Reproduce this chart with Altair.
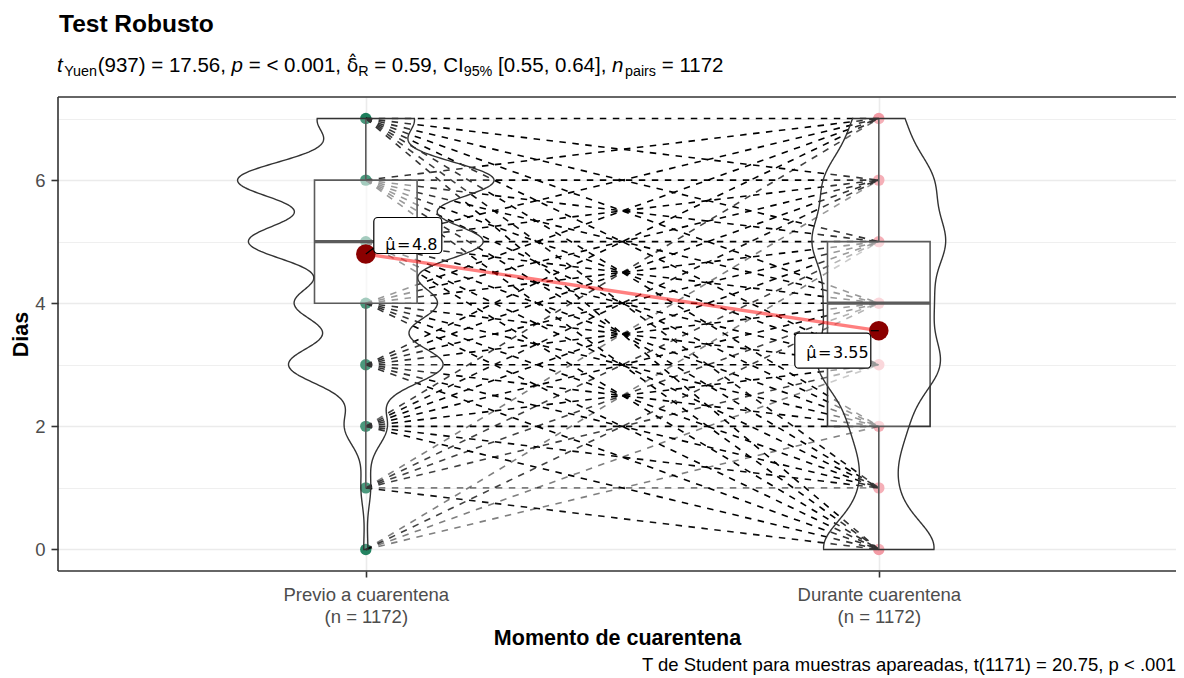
import altair as alt
import numpy as np
import pandas as pd

# ---------------- data ----------------
grupos = ["Previo a cuarentena", "Durante cuarentena"]
n_texto = "(n = 1172)"
valores = [0, 1, 2, 3, 4, 5, 6, 7]
# paired counts: row = value before quarantine, column = value during quarantine
conteos = [
    [0, 0, 1, 1, 2, 1, 0, 0],
    [4, 1, 0, 2, 2, 2, 1, 0],
    [10, 5, 8, 10, 7, 7, 4, 2],
    [37, 10, 18, 44, 28, 30, 18, 8],
    [30, 8, 15, 35, 33, 30, 18, 8],
    [46, 10, 20, 51, 45, 60, 42, 18],
    [57, 9, 18, 50, 38, 64, 62, 22],
    [19, 4, 6, 10, 8, 20, 32, 21],
]
colores = ["#1D7F5C", "#F39BA5"]

titulo = "Test Robusto"
titulo_x = "Momento de cuarentena"
titulo_y = "Dias"
pie = "T de Student para muestras apareadas, t(1171) = 20.75, p < .001"
subtitulo = [
    ("t", "it"), ("Yuen", "sub"), ("(937) = 17.56, ", "n"), ("p", "it"),
    (" = < 0.001, ", "n"), ("δ\u0302", "hat"), ("R", "sub"),
    (" = 0.59, ", "n"), ("CI", "n"), ("95%", "sub"), (" [0.55, 0.64], ", "n"),
    ("n", "it"), ("pairs", "sub"), (" = 1172", "n"),
]

# ---------------- layout ----------------
FONT = "Liberation Sans"
FONT_MATH = "DejaVu Sans"
LEFT, TOP, W, H = 58, 97, 1118, 474
PXU = 513.0
XDOM = [0.4, 0.4 + W / PXU]
YDOM = [-0.35, 7.35]
F_SUB, F_SUB2 = 20.5, 14.35
ANCHO = {' ': 278, '(': 333, ')': 333, '=': 584, '<': 584, ',': 278, '.': 278, '[': 278,
         ']': 278, '%': 889, 'C': 722, 'I': 278, 'R': 722, 'Y': 667, 'u': 556, 'e': 556,
         'n': 556, 'p': 556, 'a': 556, 'i': 222, 'r': 333, 's': 500, 't': 278, 'δ': 556,
         '\u0302': 0}


def ancho(t, size):
    return sum(ANCHO.get(c, 556) for c in t) * size / 1000.0


# ---------------- derived tables ----------------
mat = np.array(conteos)
marg = [mat.sum(axis=1), mat.sum(axis=0)]
posiciones = [1, 2]
vals_arr = np.array(valores, dtype=float)

puntos = pd.DataFrame([
    {"grupo": g, "pos": p, "valor": v, "n": int(m[i])}
    for g, p, m in zip(grupos, posiciones, marg)
    for i, v in enumerate(valores) if m[i] > 0
])

rows = []
pid = 0
for i, vi in enumerate(valores):
    for j, vj in enumerate(valores):
        c = int(mat[i, j])
        if c:
            rows.append({"pid": pid, "pos": 1, "valor": vi, "n": c})
            rows.append({"pid": pid, "pos": 2, "valor": vj, "n": c})
            pid += 1
pares = pd.DataFrame(rows)

viol_rows, caja_rows = [], []
for g, p, m in zip(grupos, posiciones, marg):
    v = np.repeat(vals_arr, m)
    nn = len(v)
    q1, med, q3 = np.percentile(v, [25, 50, 75])
    iqr = q3 - q1
    bw = 0.9 * min(v.std(ddof=1), iqr / 1.34) * nn ** -0.2
    grid = np.linspace(v.min(), v.max(), 400)
    dens = (m[None, :] * np.exp(-0.5 * ((grid[:, None] - vals_arr[None, :]) / bw) ** 2)).sum(1) / (nn * bw * np.sqrt(2 * np.pi))
    for yy, dd in zip(grid, dens):
        viol_rows.append({"grupo": g, "pos": p, "y": float(yy), "dens": float(dd)})
    lo = v[v >= q1 - 1.5 * iqr].min()
    hi = v[v <= q3 + 1.5 * iqr].max()
    caja_rows.append({"grupo": g, "pos": p, "q1": q1, "med": med, "q3": q3, "lo": lo, "hi": hi})
viol = pd.DataFrame(viol_rows)
caja = pd.DataFrame(caja_rows)

# ---------------- scales / axes ----------------
xs = alt.Scale(domain=XDOM, nice=False, zero=False)
ys = alt.Scale(domain=YDOM, nice=False, zero=False)
label_expr = (f"datum.value == 1 ? ['{grupos[0]}', '{n_texto}'] : "
              f"['{grupos[1]}', '{n_texto}']")
xaxis = alt.Axis(values=[1, 2], labelExpr=label_expr, labelFont=FONT, labelFontSize=18.5,
                 labelColor="#4D4D4D", labelLineHeight=22, labelPadding=8, tickSize=6,
                 tickColor="#333333", tickWidth=1.6, domain=False, grid=True,
                 gridColor="#EBEBEB", gridWidth=1.6, titleFont=FONT, titleFontSize=21.5,
                 titleFontWeight="bold", titleColor="black", titlePadding=2)
yaxis = alt.Axis(values=valores, labelExpr="datum.value % 2 == 0 ? datum.label : ''",
                 labelFont=FONT, labelFontSize=18.5, labelColor="#4D4D4D", labelPadding=6,
                 tickSize=7, tickColor="#333333", tickWidth=1.6,
                 tickOpacity={"condition": {"test": "datum.value % 2 == 1", "value": 0}, "value": 1},
                 domain=False, grid=True, gridColor="#EBEBEB",
                 gridWidth={"condition": {"test": "datum.value % 2 == 1", "value": 0.8}, "value": 1.6},
                 labelOverlap=False, titleFont=FONT, titleFontSize=21.5, titleFontWeight="bold",
                 titleColor="black", titlePadding=2)


def X(f):
    return alt.X(f, type="quantitative", scale=xs, axis=xaxis, title=titulo_x)


def Y(f):
    return alt.Y(f, type="quantitative", scale=ys, axis=yaxis, title=titulo_y)


op_expr = "1 - pow(0.5, datum.n)"

# ---------------- layers ----------------
pts = alt.Chart(puntos).transform_calculate(op=op_expr).mark_circle(size=130).encode(
    x=X("pos"), y=Y("valor"),
    color=alt.Color("grupo:N", scale=alt.Scale(domain=grupos, range=colores), legend=None),
    opacity=alt.Opacity("op:Q", scale=None),
)

lineas = alt.Chart(pares).transform_calculate(op=op_expr).mark_line(
    strokeDash=[6.5, 6.5], strokeWidth=1.6, color="black"
).encode(x=X("pos"), y=Y("valor"), detail="pid:N", opacity=alt.Opacity("op:Q", scale=None))

caja_base = alt.Chart(caja).transform_calculate(x1="datum.pos - 0.1", x2="datum.pos + 0.1")
bigote_sup = caja_base.mark_rule(color="#333333", strokeWidth=1.6).encode(
    x=X("pos"), y=Y("q3"), y2=alt.Y2("hi"))
bigote_inf = caja_base.mark_rule(color="#333333", strokeWidth=1.6).encode(
    x=X("pos"), y=Y("q1"), y2=alt.Y2("lo"))
cajas = caja_base.mark_rect(fill="white", fillOpacity=0.5, stroke="#333333", strokeWidth=1.6).encode(
    x=X("x1"), x2=alt.X2("x2"), y=Y("q3"), y2=alt.Y2("q1"))
mediana = caja_base.mark_rule(color="#333333", strokeWidth=3.2).encode(
    x=X("x1"), x2=alt.X2("x2"), y=Y("med"))

violines = alt.Chart(viol).transform_joinaggregate(maxd="max(dens)").transform_calculate(
    lo="datum.pos - datum.dens / datum.maxd * 0.25",
    hi="datum.pos + datum.dens / datum.maxd * 0.25",
).mark_area(orient="horizontal", fill="white", fillOpacity=0.2, stroke="#333333", strokeWidth=1.4).encode(
    y=Y("y"), x=X("lo"), x2=alt.X2("hi"), detail="grupo:N")

medias = alt.Chart(puntos).transform_calculate(w="datum.valor * datum.n").transform_aggregate(
    sw="sum(w)", sn="sum(n)", groupby=["grupo", "pos"]
).transform_calculate(media="datum.sw / datum.sn",
                      lab="'μ\u0302\u200a=\u200a' + format(datum.sw / datum.sn, '.2~f')")

linea_media = medias.mark_line(color="red", opacity=0.5, strokeWidth=3.3).encode(x=X("pos"), y=Y("media"))
punto_media = medias.mark_circle(size=380, color="#8B0000", opacity=1).encode(x=X("pos"), y=Y("media"))

# label boxes: box x from/to, box y from/to, text dx/dy, segment dx/dy (pixels from the mean point)
estilo_etiqueta = [
    (8, 76, -36.5, -0.5, 19.5, -3.7, 8, -6),
    (-84, -8, 2.5, 37.5, -72.5, 27.6, -8, 0),
]
etiquetas = []
for g, (bx1, bx2, by1, by2, tx, ty, sx, sy) in zip(grupos, estilo_etiqueta):
    b = medias.transform_filter(alt.datum.grupo == g)
    etiquetas.append(b.mark_rect(fill="white", stroke="black", strokeWidth=1.2, cornerRadius=4,
                                 xOffset=bx1, x2Offset=bx2, yOffset=by1, y2Offset=by2).encode(
        x=X("pos"), x2=alt.X2("pos"), y=Y("media"), y2=alt.Y2("media")))
    etiquetas.append(b.mark_rule(color="black", strokeWidth=1.2, x2Offset=sx, y2Offset=sy).encode(
        x=X("pos"), x2=alt.X2("pos"), y=Y("media"), y2=alt.Y2("media")))
    etiquetas.append(b.mark_text(dx=tx, dy=ty, fontSize=16, font=FONT_MATH, color="black",
                                 align="left", baseline="alphabetic").encode(
        x=X("pos"), y=Y("media"), text="lab:N"))

# ---------------- annotation text ----------------
uno = pd.DataFrame({"k": [0]})


def texto(t, x, y, size, weight="normal", style="normal", align="left", font=FONT):
    return alt.Chart(uno).mark_text(text=t, align=align, baseline="alphabetic", fontSize=size,
                                    fontWeight=weight, fontStyle=style, font=font,
                                    color="black").encode(x=alt.value(x), y=alt.value(y))


borde = alt.Chart(uno).mark_rule(color="#333333", strokeWidth=1.6)
bordes = [
    borde.encode(x=alt.value(0), y=alt.value(0), y2=alt.value(H)),
    borde.encode(x=alt.value(0), x2=alt.value(W), y=alt.value(0)),
    borde.encode(x=alt.value(0), x2=alt.value(W), y=alt.value(H)),
]

anot = [texto(titulo, 1, 32 - TOP, 24.5, weight="bold")]
xcur = 57.0
prev_kind = "n"
for t, k in subtitulo:
    size = F_SUB2 if k == "sub" else F_SUB
    lead = len(t) - len(t.lstrip(" "))
    xcur += ancho(" " * lead, size)
    body = t.strip(" ")
    if k == "sub":
        if prev_kind == "it":
            xcur += 1.5
        anot.append(texto(body, xcur - LEFT, 76 - TOP, size))
    elif k == "hat":
        anot.append(texto(body, xcur - LEFT, 72 - TOP, 19, font=FONT_MATH))
    else:
        anot.append(texto(body, xcur - LEFT, 72 - TOP, size, style="italic" if k == "it" else "normal"))
    xcur += ancho(t.lstrip(" "), size)
    prev_kind = k
anot.append(texto(pie, W, 671 - TOP, 18.5, align="right"))

chart = alt.layer(
    pts, lineas, bigote_sup, bigote_inf, cajas, mediana, violines,
    linea_media, punto_media, *etiquetas, *bordes, *anot
).properties(
    width=W, height=H, autosize=alt.AutoSizeParams(type="none"),
    padding={"left": LEFT - 8, "top": TOP - 8, "right": 0, "bottom": 670 - (TOP - 8) - H},
    background="white",
).configure_view(strokeOpacity=0)

chart.save("out.html", embed_options={"renderer": "svg", "actions": False})
